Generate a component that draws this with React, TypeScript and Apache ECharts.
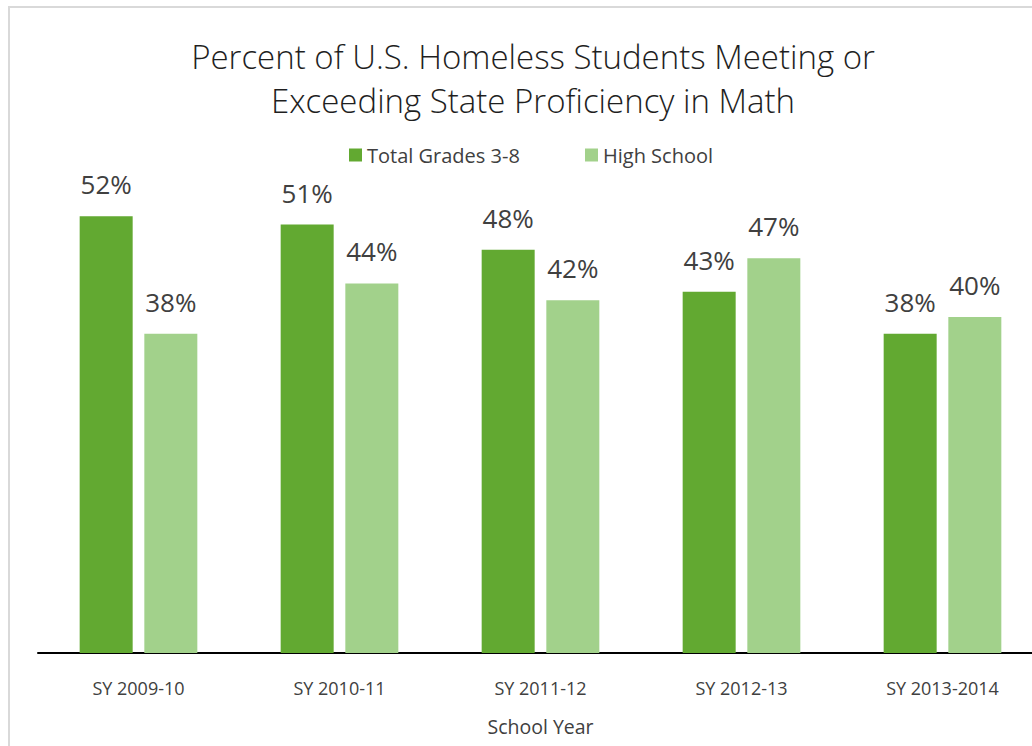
import React, { useEffect, useRef } from "react";
import * as echarts from "echarts";

const categories = ["SY 2009-10", "SY 2010-11", "SY 2011-12", "SY 2012-13", "SY 2013-2014"];
const grades38 = [52, 51, 48, 43, 38];
const highSchool = [38, 44, 42, 47, 40];
const seriesNames = ["Total Grades 3-8", "High School"];
const titleLines = ["Percent of U.S. Homeless Students Meeting or", "Exceeding State Proficiency in Math"];

export default function App() {
  const ref = useRef<HTMLDivElement>(null);
  useEffect(() => {
    if (!ref.current) return;
    const chart = echarts.init(ref.current, undefined, { renderer: "svg" });
    const font = "'Open Sans', 'Noto Sans', sans-serif";
    const labelStyle = {
      show: true,
      position: "top",
      distance: 19,
      formatter: "{c}%",
      fontSize: 26,
      color: "#404040",
      fontFamily: font,
    };
    const legendBase = {
      top: 140,
      itemWidth: 13,
      itemHeight: 13,
      icon: "rect",
      textStyle: { fontSize: 20, color: "#404040", fontFamily: font },
    };
    chart.setOption({
      animation: false,
      textStyle: { fontFamily: font },
      title: {
        text: titleLines.join("\n"),
        left: 528,
        textAlign: "center",
        top: 29,
        textStyle: {
          fontSize: 33,
          fontWeight: 300,
          color: "#1f1f1f",
          lineHeight: 44,
          fontFamily: font,
        },
      },
      legend: [
        { ...legendBase, left: 344, data: [seriesNames[0]] },
        { ...legendBase, left: 580, data: [seriesNames[1]] },
      ],
      grid: { left: 38, right: 2, top: 149, bottom: 93 },
      xAxis: {
        type: "category",
        data: categories,
        name: "School Year",
        nameLocation: "middle",
        nameGap: 63,
        nameTextStyle: { fontSize: 19.5, color: "#404040", fontFamily: font },
        axisLine: { lineStyle: { color: "#000000", width: 2 } },
        axisTick: { show: false },
        axisLabel: { fontSize: 18, color: "#404040", margin: 26, fontFamily: font },
      },
      yAxis: {
        type: "value",
        min: 0,
        max: 60,
        show: false,
        splitLine: { show: false },
      },
      series: [
        {
          name: seriesNames[0],
          type: "bar",
          data: grades38,
          barWidth: 53,
          barGap: "22%",
          itemStyle: { color: "#62A931" },
          label: labelStyle,
        },
        {
          name: seriesNames[1],
          type: "bar",
          data: highSchool,
          barWidth: 53,
          itemStyle: { color: "#A2D18B" },
          label: labelStyle,
        },
      ],
    });
    return () => chart.dispose();
  }, []);
  return (
    <div style={{ position: "fixed", left: 0, top: 0, width: 1032, height: 746, overflow: "hidden", background: "#fff" }}>
      <div
        style={{
          position: "absolute",
          left: 8,
          top: 6,
          width: 1100,
          height: 800,
          border: "2px solid #d9d9d9",
        }}
      />
      <div ref={ref} style={{ position: "absolute", left: 0, top: 0, width: 1045, height: 746 }} />
    </div>
  );
}
